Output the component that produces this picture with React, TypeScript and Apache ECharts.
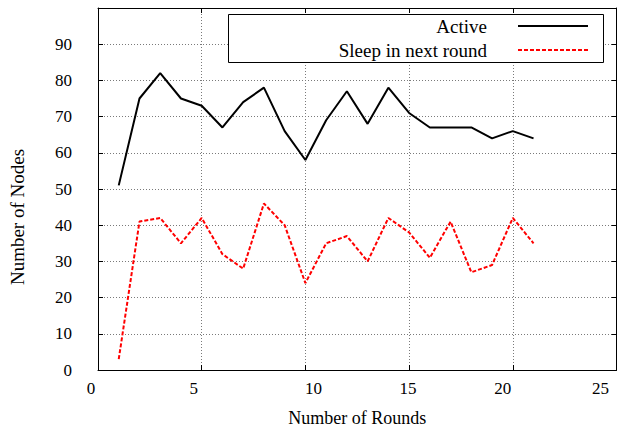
import React, { useEffect, useRef } from "react";
import * as echarts from "echarts";

const rounds = [1, 2, 3, 4, 5, 6, 7, 8, 9, 10, 11, 12, 13, 14, 15, 16, 17, 18, 19, 20, 21];
const activeNodes = [51, 75, 82, 75, 73, 67, 74, 78, 66, 58, 69, 77, 68, 78, 71, 67, 67, 67, 64, 66, 64];
const sleepNodes = [3, 41, 42, 35, 42, 32, 28, 46, 40, 24, 35, 37, 30, 42, 38, 31, 41, 27, 29, 42, 35];
const seriesNames = ["Active", "Sleep in next round"];
const xTickLabels = [0, 5, 10, 15, 20, 25];
const xAxisName = "Number of Rounds";
const yAxisName = "Number of Nodes";

const FONT = "Liberation Serif";

// small horizontal nudges of the x tick labels (style only)
const xLabelShift: Record<number, number> = { 0: -7, 5: -8, 10: 8, 15: -1, 20: -10, 25: -16 };

export default function App() {
  const ref = useRef<HTMLDivElement>(null);
  useEffect(() => {
    if (!ref.current) return;
    const chart = echarts.init(ref.current, undefined, { renderer: "svg" });
    const rich: Record<string, any> = {};
    xTickLabels.forEach((v) => {
      const d = xLabelShift[v] || 0;
      rich["s" + v] = {
        fontFamily: FONT,
        fontSize: 17,
        color: "#000",
        padding: d >= 0 ? [0, 0, 0, 2 * d] : [0, -2 * d, 0, 0],
      };
    });
    const gridLine = { show: true, lineStyle: { color: "#7a7a7a", width: 1, type: [1, 2] as any } };
    const axisLine = { show: true, onZero: false, lineStyle: { color: "#000", width: 1 } };
    const tick = { show: true, inside: true, length: 5, lineStyle: { color: "#000", width: 1 } };
    const option: any = {
      animation: false,
      backgroundColor: "#fff",
      textStyle: { fontFamily: FONT },
      grid: { left: 95.5, right: 0.5, top: 8, bottom: 63, containLabel: false },
      xAxis: [
        {
          type: "value",
          min: 0,
          max: 25,
          interval: 5,
          position: "bottom",
          axisLine,
          axisTick: tick,
          splitLine: gridLine,
          axisLabel: {
            margin: 10,
            fontFamily: FONT,
            fontSize: 17,
            color: "#000",
            formatter: (v: number) => `{s${v}|${v}}`,
            rich,
          },
          name: xAxisName,
          nameLocation: "middle",
          nameGap: 39,
          nameTextStyle: { fontFamily: FONT, fontSize: 18, color: "#000" },
        },
        {
          type: "value",
          min: 0,
          max: 25,
          interval: 5,
          position: "top",
          axisLine,
          axisTick: tick,
          splitLine: { show: false },
          axisLabel: { show: false },
        },
      ],
      yAxis: [
        {
          type: "value",
          min: 0,
          max: 100,
          interval: 10,
          position: "left",
          axisLine,
          axisTick: tick,
          splitLine: gridLine,
          axisLabel: {
            margin: 26,
            fontFamily: FONT,
            fontSize: 17,
            color: "#000",
            formatter: (v: number) => (v === 100 ? "" : String(v)),
          },
          name: yAxisName,
          nameLocation: "middle",
          nameGap: 71,
          nameRotate: 90,
          nameTextStyle: { fontFamily: FONT, fontSize: 19, color: "#000", padding: [0, 56, 0, 0] },
        },
        {
          type: "value",
          min: 0,
          max: 100,
          interval: 10,
          position: "right",
          axisLine,
          axisTick: tick,
          splitLine: { show: false },
          axisLabel: { show: false },
        },
      ],
      series: [
        {
          name: seriesNames[0],
          type: "line",
          xAxisIndex: 0,
          yAxisIndex: 0,
          data: rounds.map((r, i) => [r, activeNodes[i]]),
          symbol: "none",
          lineStyle: { color: "#000", width: 2 },
          itemStyle: { color: "#000" },
          z: 3,
        },
        {
          name: seriesNames[1],
          type: "line",
          xAxisIndex: 0,
          yAxisIndex: 0,
          data: rounds.map((r, i) => [r, sleepNodes[i]]),
          symbol: "none",
          lineStyle: { color: "#ff0000", width: 2, type: [4, 2] },
          itemStyle: { color: "#ff0000" },
          z: 3,
        },
      ],
      graphic: [
        {
          type: "rect",
          z: 100,
          shape: { x: 228.5, y: 14.5, width: 375, height: 48 },
          style: { fill: "#fff", stroke: "#000", lineWidth: 1 },
        },
        {
          type: "text",
          z: 101,
          x: 487,
          y: 26,
          style: {
            text: seriesNames[0],
            align: "right",
            verticalAlign: "middle",
            font: "19px Liberation Serif",
            fontFamily: FONT,
            fontSize: 19,
            fill: "#000",
          },
        },
        {
          type: "text",
          z: 101,
          x: 487,
          y: 50,
          style: {
            text: seriesNames[1],
            align: "right",
            verticalAlign: "middle",
            font: "19px Liberation Serif",
            fontFamily: FONT,
            fontSize: 19,
            fill: "#000",
          },
        },
        {
          type: "line",
          z: 101,
          shape: { x1: 518, y1: 26, x2: 588, y2: 26 },
          style: { stroke: "#000", lineWidth: 2 },
        },
        {
          type: "line",
          z: 101,
          shape: { x1: 518, y1: 50, x2: 588, y2: 50 },
          style: { stroke: "#ff0000", lineWidth: 2, lineDash: [4, 2] },
        },
      ],
    };
    chart.setOption(option);
    return () => chart.dispose();
  }, []);
  return (
    <div
      ref={ref}
      style={{ position: "fixed", left: 0, top: 0, width: 617, height: 433, background: "#fff" }}
    />
  );
}
